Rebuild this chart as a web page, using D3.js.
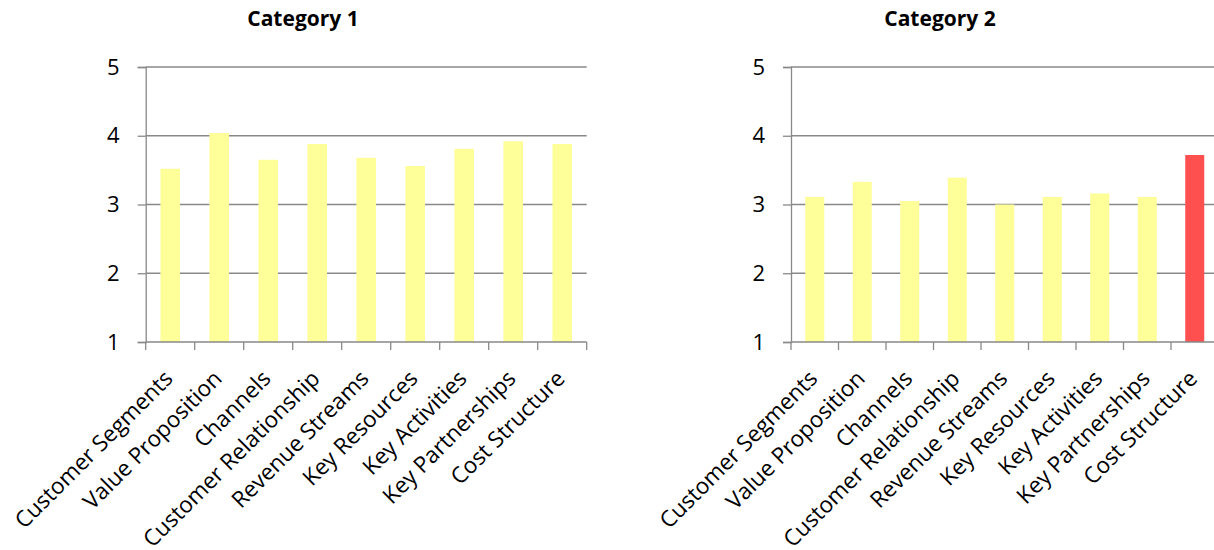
<!DOCTYPE html>
<html>
<head>
<meta charset="utf-8">
<script src="https://cdn.jsdelivr.net/npm/d3@7"></script>
<style>
  html, body { margin: 0; padding: 0; background: #fff; }
  svg { display: block; }
</style>
</head>
<body>
<svg id="chart" width="1214" height="550"></svg>
<script>
// ---- data ----
const categories = ["Customer Segments", "Value Proposition", "Channels", "Customer Relationship",
  "Revenue Streams", "Key Resources", "Key Activities", "Key Partnerships", "Cost Structure"];
const titles = ["Category 1", "Category 2"];
const values1 = [3.52, 4.04, 3.65, 3.88, 3.68, 3.56, 3.81, 3.92, 3.88];
const values2 = [3.11, 3.33, 3.05, 3.39, 3.00, 3.11, 3.16, 3.11, 3.72];
const highlighted2 = ["Cost Structure"];
const yTicks = [1, 2, 3, 4, 5];

// ---- styles ----
const barColor = "#FFFF99";
const highlightColor = "#FF5050";
const gridColor = "#898989";
const fontFamily = "'Open Sans', sans-serif";

const svg = d3.select("#chart");

const panels = [
  { title: titles[0], values: values1, highlight: [], x0: 145.7, x1: 586.7, titleX: 303 },
  { title: titles[1], values: values2, highlight: highlighted2, x0: 791, x1: 1218.5, titleX: 940 }
];

const yTop = 67, yBottom = 342;

panels.forEach(p => {
  const g = svg.append("g");
  const x = d3.scaleBand().domain(categories).range([p.x0, p.x1]).paddingInner(0.6).paddingOuter(0.3);
  const y = d3.scaleLinear().domain([1, 5]).range([yBottom, yTop]);

  // gridlines
  g.append("g").selectAll("line").data(yTicks.slice(1)).join("line")
    .attr("x1", p.x0).attr("x2", p.x1)
    .attr("y1", d => y(d)).attr("y2", d => y(d))
    .attr("stroke", gridColor).attr("stroke-width", 1.3);

  // bars
  g.append("g").selectAll("rect").data(categories).join("rect")
    .attr("x", d => x(d))
    .attr("width", x.bandwidth())
    .attr("y", (d, i) => y(p.values[i]))
    .attr("height", (d, i) => y(1) - y(p.values[i]))
    .attr("fill", d => p.highlight.includes(d) ? highlightColor : barColor);

  // y axis
  const yAxis = d3.axisLeft(y).tickValues(yTicks).tickFormat(d3.format("d")).tickSize(8).tickPadding(18);
  const ya = g.append("g").attr("transform", `translate(${p.x0},0)`).call(yAxis);
  ya.select(".domain").attr("stroke", gridColor).attr("stroke-width", 1.3);
  ya.selectAll(".tick line").attr("stroke", gridColor).attr("stroke-width", 1.3);
  ya.selectAll(".tick text").attr("font-family", fontFamily).attr("font-size", 22).attr("fill", "#000");

  // x axis baseline
  g.append("line").attr("x1", p.x0).attr("x2", p.x1).attr("y1", yBottom).attr("y2", yBottom)
    .attr("stroke", gridColor).attr("stroke-width", 1.3);
  // x tick marks at category boundaries
  const boundaries = categories.map(c => x(c) + x.bandwidth() / 2 - x.step() / 2).concat([p.x1]);
  g.append("g").selectAll("line").data(boundaries).join("line")
    .attr("x1", d => d).attr("x2", d => d)
    .attr("y1", yBottom).attr("y2", yBottom + 8)
    .attr("stroke", gridColor).attr("stroke-width", 1.3);

  // x labels
  const xAxis = d3.axisBottom(x).tickSize(0).tickSizeOuter(0);
  const xg = g.append("g").attr("transform", `translate(0,${yBottom})`).call(xAxis);
  xg.select(".domain").remove();
  xg.selectAll(".tick text")
    .attr("font-family", fontFamily).attr("font-size", 22.5).attr("fill", "#000")
    .attr("text-anchor", "end")
    .attr("dy", 0).attr("y", 0)
    .attr("transform", "translate(4,38) rotate(-45)");

  // title
  g.append("text").attr("x", p.titleX).attr("y", 26)
    .attr("text-anchor", "middle")
    .attr("font-family", fontFamily).attr("font-weight", "bold").attr("font-size", 21)
    .attr("fill", "#000").text(p.title);
});
</script>
</body>
</html>
